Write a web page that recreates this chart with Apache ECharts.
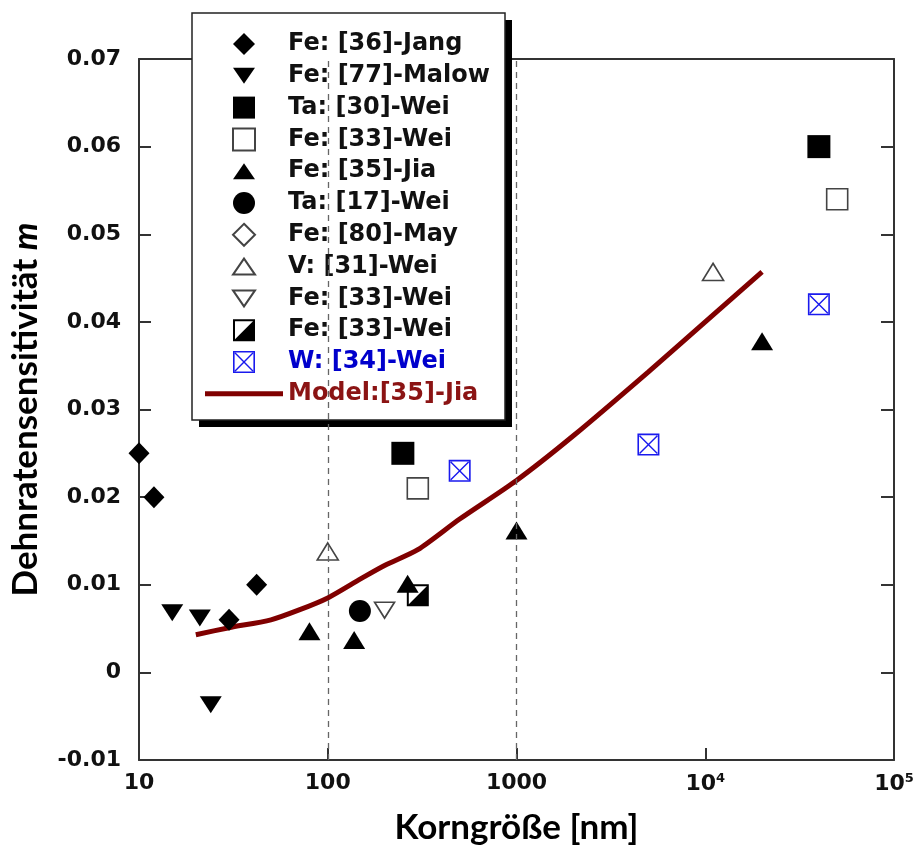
<!DOCTYPE html>
<html>
<head>
<meta charset="utf-8">
<script src="https://cdn.jsdelivr.net/npm/echarts@6/dist/echarts.min.js"></script>
<style>
html,body{margin:0;padding:0;background:#fff;}
#c{width:918px;height:850px;}
</style>
</head>
<body>
<div id="c"></div>
<script>
// ---- data ----
const jangFe36   = [[10, 0.025], [12, 0.020], [30, 0.006], [42, 0.010]];
const malowFe77  = [[15, 0.0068], [21, 0.0062], [24, -0.0037]];
const weiTa30    = [[250, 0.025], [40000, 0.060]];
const weiFe33a   = [[300, 0.021], [50000, 0.054]];
const jiaFe35    = [[80, 0.0047], [138, 0.0037], [265, 0.0101], [1000, 0.0162], [20000, 0.0378]];
const weiTa17    = [[148, 0.0070]];
const mayFe80    = [];
const weiV31     = [[100, 0.0138], [11000, 0.0457]];
const weiFe33b   = [[200, 0.0071]];
const weiFe33c   = [[300, 0.0088]];
const weiW34     = [[500, 0.023], [5000, 0.026], [40000, 0.042]];
const modelJia35 = [[20, 0.0043], [30, 0.0051], [50, 0.0060], [70, 0.0071], [100, 0.0085], [150, 0.0107],
                    [200, 0.0122], [300, 0.0140], [500, 0.0175], [1000, 0.0219], [2000, 0.0270],
                    [5000, 0.0343], [10000, 0.0400], [20000, 0.0457]];
const dashedRefX = [100, 1000];

const seriesNames = ['Fe: [36]-Jang', 'Fe: [77]-Malow', 'Ta: [30]-Wei', 'Fe: [33]-Wei#a', 'Fe: [35]-Jia',
                     'Ta: [17]-Wei', 'Fe: [80]-May', 'V: [31]-Wei', 'Fe: [33]-Wei#b', 'Fe: [33]-Wei#c',
                     'W: [34]-Wei', 'Model:[35]-Jia'];
const xTickLabels = {10: '10', 100: '100', 1000: '1000', 10000: '10{sup|4}', 100000: '10{sup|5}'};
const xTitle = 'Korngröße [nm]';
const yTitle = 'Dehnratensensitivität {i|m}';

// ---- styles ----
const P_DIAMOND = 'path://M11,0L22,11L11,22L0,11Z';
const P_TRI_UP = 'path://M11,0L22,18L0,18Z';
const P_TRI_DOWN = 'path://M0,0L22,0L11,18Z';
const P_SQUARE = 'path://M0,0L22,0L22,22L0,22Z';
const P_HALF = 'path://M0,0L22,0L22,22L0,22Z M2,2L2,20L20,20L20,2Z M22,0L22,22L0,22Z';
const P_XBOX = 'path://M0,0L22,0L22,22L0,22Z M1.6,1.6L1.6,20.4L20.4,20.4L20.4,1.6Z ' +
               'M1.6,2.6L2.6,1.6L20.4,19.4L19.4,20.4Z M19.4,1.6L20.4,2.6L2.6,20.4L1.6,19.4Z';
const P_LINE = 'path://M0,0L78,0L78,5L0,5Z';
// legend icons (padded so the triangles stay flat inside the 22px row)
const L_TRI_UP = 'path://M0,0M22,22M0,19L11,3L22,19Z';
const L_TRI_DOWN = 'path://M0,0M22,22M0,3L22,3L11,19Z';
const BLUE = '#1a1aee';
const DARKRED = '#800000';
const solid = {color: '#000', opacity: 1};
const openStyle = {color: '#ffffff', borderColor: '#444', borderWidth: 1.6, opacity: 1};

function sc(name, data, symbol, size, itemStyle) {
  return {
    type: 'scatter', name: name, data: data, symbol: symbol, symbolSize: size,
    itemStyle: itemStyle, xAxisIndex: 0, yAxisIndex: 0, z: 2
  };
}

const series = [
  {
    type: 'line', name: '__ref', data: [], xAxisIndex: 0, yAxisIndex: 0, z: 1,
    markLine: {
      silent: true, symbol: 'none', label: {show: false},
      lineStyle: {color: '#666', type: [6, 5], width: 1.3},
      data: dashedRefX.map(v => ({xAxis: v}))
    }
  },
  sc(seriesNames[0], jangFe36, P_DIAMOND, [21, 22], solid),
  sc(seriesNames[1], malowFe77, P_TRI_DOWN, [22, 17], solid),
  sc(seriesNames[2], weiTa30, P_SQUARE, [23, 23], solid),
  sc(seriesNames[3], weiFe33a, P_SQUARE, [21, 21], openStyle),
  sc(seriesNames[4], jiaFe35, P_TRI_UP, [22, 18], solid),
  sc(seriesNames[5], weiTa17, 'circle', 22, solid),
  sc(seriesNames[6], mayFe80, P_DIAMOND, [19, 20], openStyle),
  sc(seriesNames[7], weiV31, P_TRI_UP, [21, 17], openStyle),
  sc(seriesNames[8], weiFe33b, P_TRI_DOWN, [20, 16], openStyle),
  sc(seriesNames[9], weiFe33c, P_HALF, [22, 22], solid),
  sc(seriesNames[10], weiW34, P_XBOX, [22, 22], {color: BLUE, opacity: 1}),
  {
    type: 'line', name: seriesNames[11], data: modelJia35, xAxisIndex: 0, yAxisIndex: 0,
    showSymbol: false, symbol: 'none', smooth: 0.25, z: 2,
    lineStyle: {color: DARKRED, width: 5}, itemStyle: {color: DARKRED}
  }
];

const legendIcons = {1: L_TRI_DOWN, 4: L_TRI_UP, 7: L_TRI_UP, 8: L_TRI_DOWN, 11: P_LINE};

const axisLineStyle = {color: '#333', width: 2};
const tickFont = {fontFamily: 'DejaVu Sans', fontWeight: 'bold', fontSize: 22, color: '#111'};

const option = {
  animation: false,
  backgroundColor: '#fff',
  grid: {left: 137, right: 24, top: 59, bottom: 87, containLabel: false},
  graphic: [
    {type: 'rect', z: 3, shape: {x: 199, y: 20, width: 313, height: 407}, style: {fill: '#000'}},
    {type: 'rect', z: 3, shape: {x: 192, y: 13, width: 313, height: 407},
     style: {fill: '#fff', stroke: '#222', lineWidth: 1.5}}
  ],
  xAxis: [
    {
      type: 'log', logBase: 10, min: 10, max: 100000, position: 'bottom',
      axisLine: {show: true, onZero: false, lineStyle: axisLineStyle},
      axisTick: {show: true, inside: true, length: 12, lineStyle: {color: '#333', width: 2}},
      minorTick: {show: false},
      splitLine: {show: false},
      axisLabel: Object.assign({}, tickFont, {
        margin: 12,
        formatter: v => xTickLabels[Math.round(v)] || '',
        rich: {sup: {fontFamily: 'DejaVu Sans', fontWeight: 'bold', fontSize: 13, color: '#111', verticalAlign: 'top', padding: [0, 0, 12, 0]}}
      }),
      name: xTitle, nameLocation: 'middle', nameGap: 50,
      nameTextStyle: {fontFamily: 'Lato', fontWeight: 'bold', fontSize: 35, color: '#000'}
    },
    {
      type: 'log', logBase: 10, min: 10, max: 100000, position: 'top',
      axisLine: {show: true, onZero: false, lineStyle: axisLineStyle},
      axisTick: {show: false}, axisLabel: {show: false}, splitLine: {show: false}
    }
  ],
  yAxis: [
    {
      type: 'value', min: -0.01, max: 0.07, interval: 0.01, position: 'left',
      axisLine: {show: true, onZero: false, lineStyle: axisLineStyle},
      axisTick: {show: true, inside: true, length: 12, lineStyle: {color: '#333', width: 2}},
      splitLine: {show: false},
      axisLabel: Object.assign({}, tickFont, {
        margin: 18,
        formatter: v => Math.abs(v) < 1e-9 ? '0' : String(+v.toFixed(2))
      }),
      name: yTitle, nameLocation: 'middle', nameRotate: 90, nameGap: 96,
      nameTextStyle: {fontFamily: 'Lato', fontWeight: 'bold', fontSize: 35, color: '#000',
        rich: {i: {fontFamily: 'Lato', fontWeight: 'bold', fontStyle: 'italic', fontSize: 35, color: '#000'}}}
    },
    {
      type: 'value', min: -0.01, max: 0.07, interval: 0.01, position: 'right',
      axisLine: {show: true, onZero: false, lineStyle: axisLineStyle},
      axisTick: {show: true, inside: true, length: 13, lineStyle: {color: '#333', width: 2}},
      splitLine: {show: false}, axisLabel: {show: false}
    }
  ],
  legend: {
    orient: 'vertical', left: 192, top: 13, z: 4,
    padding: [19, 13, 16, 13],
    itemWidth: 78, itemHeight: 22, itemGap: 7.8,
    symbolKeepAspect: true,
    selectedMode: false,
    formatter: name => name.split('#')[0],
    textStyle: {fontFamily: 'DejaVu Sans', fontWeight: 'bold', fontSize: 24, color: '#111', lineHeight: 22},
    data: seriesNames.map((n, i) => {
      const d = {name: n};
      if (legendIcons[i]) d.icon = legendIcons[i];
      if (i === 10) d.textStyle = {color: '#0000cc'};
      if (i === 11) d.textStyle = {color: '#8b1414'};
      return d;
    })
  },
  series: series
};

const chart = echarts.init(document.getElementById('c'), null, {renderer: 'canvas'});
chart.setOption(option);
</script>
</body>
</html>
